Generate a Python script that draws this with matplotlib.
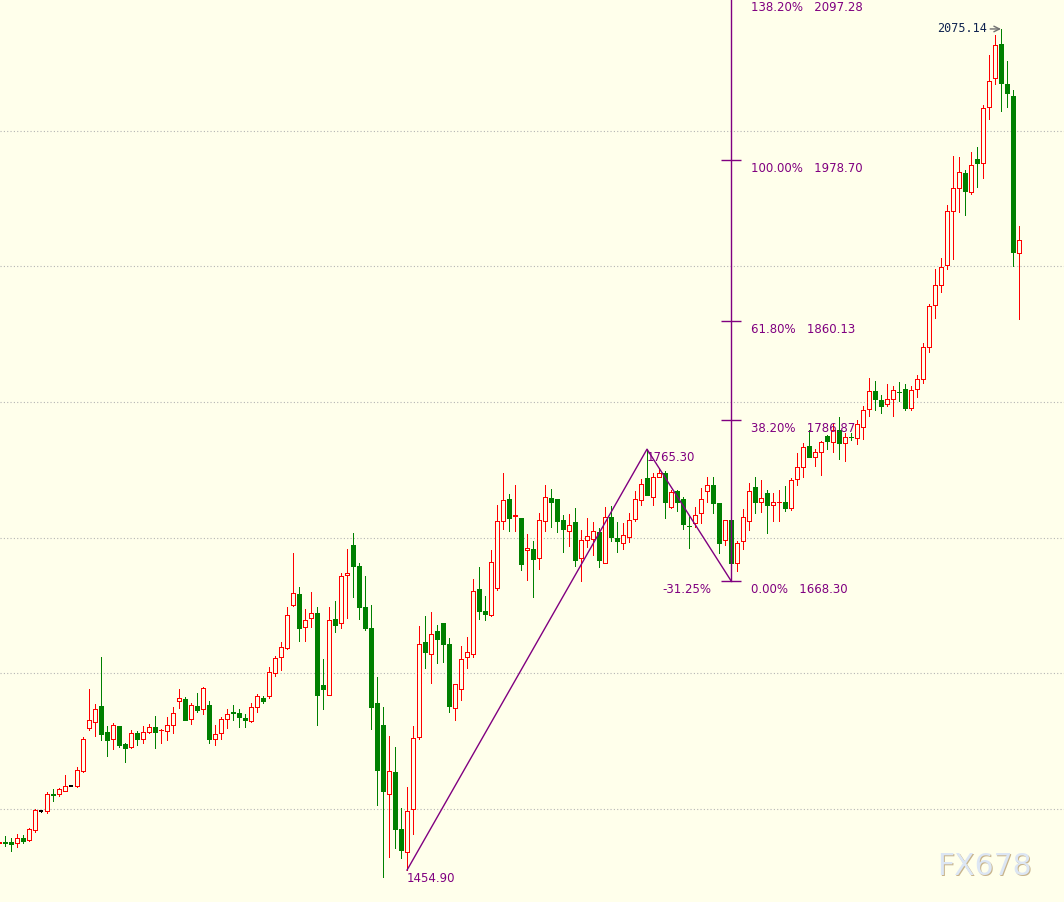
import matplotlib
matplotlib.use("Agg")
import matplotlib.pyplot as plt
from matplotlib.patches import Rectangle

# daily candles (index 0 is the half-cut one at the left edge)
opens = [1474.9, 1475.5, 1475.6, 1474.7, 1478.6, 1477.1, 1484.5, 1498.7, 1498.7, 1511.0,
         1510.8, 1513.6, 1516.6, 1517.2, 1528.2, 1559.9, 1564.4, 1575.9, 1556.8, 1551.8,
         1561.2, 1547.9, 1545.9, 1555.8, 1551.8, 1556.8, 1560.5, 1558.1, 1557.7, 1561.7,
         1579.9, 1580.9, 1566.1, 1575.9, 1573.5, 1576.7, 1551.8, 1555.8, 1566.4, 1571.3,
         1571.1, 1567.1, 1565.1, 1575.0, 1581.6, 1583.6, 1600.5, 1611.9, 1618.9, 1650.6,
         1658.5, 1634.4, 1640.6, 1644.3, 1591.4, 1584.4, 1640.0, 1636.9, 1672.5, 1694.7,
         1679.2, 1648.9, 1633.4, 1578.5, 1561.9, 1510.8, 1527.0, 1485.3, 1468.5, 1499.8,
         1553.3, 1622.8, 1614.0, 1631.2, 1636.8, 1621.6, 1574.1, 1588.3, 1611.7, 1614.0,
         1662.3, 1646.0, 1643.2, 1662.9, 1712.3, 1728.4, 1716.0, 1714.5, 1690.6, 1691.7,
         1685.0, 1712.3, 1729.2, 1728.5, 1713.2, 1705.3, 1711.6, 1685.0, 1698.4, 1699.3,
         1704.2, 1681.3, 1715.3, 1700.0, 1696.0, 1700.2, 1713.6, 1728.0, 1743.7, 1730.4,
         1744.8, 1747.7, 1723.0, 1734.6, 1728.2, 1708.8, 1711.0, 1718.3, 1734.6, 1738.8,
         1725.8, 1698.2, 1713.4, 1681.4, 1697.5, 1712.0, 1737.3, 1726.7, 1733.3, 1724.1,
         1726.1, 1726.3, 1722.1, 1743.3, 1752.0, 1767.6, 1759.8, 1763.0, 1775.0, 1770.8,
         1779.8, 1769.6, 1774.6, 1773.2, 1781.7, 1794.6, 1808.2, 1801.6, 1798.4, 1802.1,
         1807.7, 1809.4, 1795.8, 1809.4, 1816.7, 1840.6, 1871.3, 1886.3, 1901.4, 1940.9,
         1957.6, 1969.3, 1954.6, 1979.2, 1976.0, 2017.7, 2038.8, 2064.2, 2034.7, 2025.6,
         1910.2]
highs = [1475.5, 1480.1, 1478.6, 1481.6, 1480.8, 1486.2, 1500.2, 1498.8, 1512.5, 1515.0,
         1515.7, 1525.1, 1516.6, 1530.6, 1552.9, 1588.5, 1577.4, 1612.1, 1561.2, 1563.2,
         1561.2, 1548.9, 1558.3, 1557.5, 1561.2, 1562.7, 1568.6, 1559.0, 1567.6, 1575.0,
         1588.5, 1582.8, 1577.9, 1585.3, 1590.2, 1579.6, 1561.9, 1567.6, 1573.7, 1576.7,
         1573.7, 1570.0, 1577.9, 1584.8, 1583.5, 1604.8, 1612.8, 1623.1, 1648.7, 1689.0,
         1663.4, 1647.5, 1660.0, 1648.7, 1610.6, 1648.7, 1653.0, 1674.3, 1691.7, 1703.5,
         1681.2, 1671.5, 1650.6, 1597.5, 1575.4, 1553.8, 1545.7, 1501.0, 1516.4, 1561.2,
         1634.9, 1642.2, 1645.4, 1635.7, 1636.8, 1626.3, 1592.2, 1620.2, 1626.5, 1669.3,
         1678.4, 1657.1, 1690.9, 1724.4, 1747.7, 1732.3, 1738.9, 1714.5, 1702.8, 1697.6,
         1718.1, 1738.9, 1735.9, 1728.5, 1716.4, 1717.5, 1721.9, 1705.7, 1714.5, 1711.6,
         1707.1, 1722.7, 1723.4, 1711.6, 1711.1, 1718.1, 1734.5, 1743.5, 1765.3, 1747.7,
         1751.4, 1748.9, 1735.3, 1735.3, 1730.1, 1716.8, 1723.0, 1736.7, 1744.8, 1744.8,
         1725.8, 1713.4, 1713.4, 1697.4, 1721.3, 1740.3, 1744.8, 1742.7, 1735.3, 1733.3,
         1735.3, 1738.2, 1744.3, 1762.7, 1770.0, 1779.4, 1765.1, 1771.4, 1775.7, 1784.2,
         1788.7, 1777.0, 1777.0, 1786.8, 1797.1, 1817.6, 1815.6, 1805.2, 1813.3, 1811.9,
         1814.9, 1813.3, 1811.9, 1820.0, 1843.3, 1872.6, 1897.8, 1906.6, 1945.2, 1981.5,
         1980.4, 1971.1, 1984.1, 1988.2, 2019.1, 2055.7, 2070.7, 2075.14, 2051.2, 2030.1,
         1929.6]
lows = [1474.9, 1472.9, 1469.3, 1472.2, 1474.7, 1476.4, 1483.3, 1497.4, 1496.8, 1506.1,
        1509.8, 1513.6, 1516.6, 1516.0, 1527.0, 1558.3, 1554.0, 1550.9, 1539.1, 1544.2,
        1545.9, 1534.7, 1545.2, 1547.4, 1548.4, 1555.8, 1545.2, 1548.9, 1550.9, 1555.8,
        1574.5, 1565.8, 1562.4, 1571.3, 1569.7, 1548.4, 1546.8, 1551.8, 1559.5, 1565.6,
        1560.6, 1560.6, 1564.4, 1571.6, 1577.9, 1581.5, 1598.2, 1602.5, 1618.0, 1649.8,
        1623.9, 1623.9, 1634.4, 1561.9, 1573.7, 1584.4, 1630.6, 1633.7, 1640.8, 1656.1,
        1640.0, 1632.1, 1558.8, 1503.0, 1450.1, 1464.7, 1471.5, 1463.6, 1454.9, 1481.3,
        1551.6, 1604.1, 1593.0, 1607.9, 1608.5, 1571.6, 1565.6, 1580.7, 1604.3, 1612.3,
        1640.0, 1639.0, 1642.0, 1661.7, 1706.2, 1704.6, 1704.6, 1676.2, 1668.6, 1656.1,
        1677.1, 1704.7, 1707.6, 1704.0, 1689.3, 1694.1, 1678.8, 1667.8, 1693.5, 1687.5,
        1678.1, 1681.3, 1697.7, 1689.7, 1691.5, 1696.5, 1712.3, 1724.3, 1731.4, 1724.3,
        1744.8, 1714.5, 1721.8, 1720.0, 1706.8, 1692.7, 1708.0, 1711.0, 1726.3, 1718.3,
        1688.9, 1694.9, 1668.3, 1675.2, 1691.6, 1705.7, 1718.3, 1719.3, 1703.5, 1712.0,
        1712.0, 1719.6, 1720.3, 1739.0, 1744.5, 1759.2, 1753.0, 1746.6, 1765.1, 1763.3,
        1758.4, 1756.7, 1772.1, 1769.1, 1772.5, 1789.7, 1794.2, 1792.1, 1797.1, 1789.8,
        1800.8, 1794.2, 1794.2, 1804.0, 1814.3, 1837.1, 1862.2, 1881.2, 1898.5, 1905.6,
        1940.4, 1938.0, 1953.4, 1958.7, 1965.3, 2008.4, 2034.2, 2014.6, 2017.7, 1900.6,
        1861.6]
closes = [1475.5, 1475.0, 1474.4, 1478.4, 1476.2, 1485.3, 1499.3, 1498.7, 1510.8, 1510.5,
          1514.7, 1516.6, 1516.6, 1528.5, 1551.4, 1565.4, 1573.5, 1555.5, 1550.9, 1561.9,
          1547.4, 1545.2, 1555.8, 1551.6, 1556.6, 1560.5, 1557.0, 1558.4, 1562.0, 1570.6,
          1581.6, 1565.8, 1576.7, 1573.0, 1589.0, 1551.6, 1555.3, 1566.4, 1570.0, 1571.0,
          1567.6, 1565.4, 1575.0, 1583.3, 1579.9, 1600.8, 1611.3, 1619.2, 1642.8, 1659.0,
          1633.7, 1639.3, 1644.3, 1584.3, 1588.7, 1639.7, 1635.7, 1671.6, 1674.0, 1679.5,
          1649.2, 1633.4, 1575.4, 1529.0, 1513.5, 1527.7, 1485.4, 1469.8, 1498.5, 1552.1,
          1621.4, 1616.0, 1628.7, 1625.6, 1621.8, 1576.1, 1591.8, 1610.4, 1615.4, 1660.5,
          1646.3, 1644.1, 1681.8, 1712.3, 1727.5, 1714.8, 1716.7, 1680.9, 1692.5, 1684.3,
          1713.1, 1730.1, 1726.6, 1712.3, 1706.3, 1709.7, 1683.8, 1698.3, 1701.4, 1704.7,
          1683.8, 1715.3, 1700.2, 1697.4, 1701.7, 1713.1, 1728.4, 1739.8, 1731.4, 1744.7,
          1747.7, 1726.1, 1733.6, 1726.0, 1709.8, 1708.3, 1716.9, 1728.6, 1739.0, 1725.8,
          1696.3, 1713.4, 1681.4, 1696.2, 1715.2, 1734.1, 1726.7, 1729.2, 1724.3, 1726.3,
          1726.5, 1722.1, 1742.5, 1752.2, 1767.1, 1759.8, 1762.9, 1770.6, 1771.5, 1779.4,
          1769.6, 1774.5, 1774.3, 1784.2, 1794.2, 1808.2, 1802.3, 1797.3, 1802.1, 1808.6,
          1807.4, 1795.8, 1808.6, 1816.7, 1840.3, 1871.1, 1886.1, 1899.7, 1941.0, 1958.0,
          1969.8, 1955.8, 1974.8, 1976.0, 2017.2, 2036.8, 2063.6, 2035.2, 2027.8, 1910.9,
          1919.8]

# fibonacci extension drawn on the chart
swing_idx = [68, 108, 122]
swing_prices = [1454.90, 1765.30, 1668.30]
fib_pcts = ["0.00%", "38.20%", "61.80%", "100.00%", "138.20%"]
fib_prices = [1668.30, 1786.87, 1860.13, 1978.70, 2097.28]
retrace_label = "-31.25%"
grid_levels = [1500, 1600, 1700, 1800, 1900, 2000]
peak_idx = 167
peak_label = "2075.14"

BG = "#FFFFEB"
UP = "#FF0000"
DOWN = "#008000"
PURPLE = "#800080"
W = 0.75
LW = 0.72  # ~1 px


def main():
    fig = plt.figure(figsize=(10.64, 9.02), dpi=100)
    fig.patch.set_facecolor(BG)
    ax = fig.add_axes([0, 0, 1, 1])
    ax.set_axis_off()
    ax.set_xlim(1 / 6, 177.5)
    ax.set_ylim(1431.4, 2096.5)

    for lvl in grid_levels:
        ax.axhline(lvl, color="#B4B4B4", lw=0.8, ls=(0, (1, 2)), zorder=0)

    for i, (o, h, l, c) in enumerate(zip(opens, highs, lows, closes)):
        if c > o:
            col, face = UP, BG
        elif c < o:
            col, face = DOWN, DOWN
        else:
            col, face = "black", "black"
        ax.vlines(i, l, h, color=col, lw=LW, zorder=2, antialiased=False)
        if c == o:
            ax.hlines(c, i - W / 2, i + W / 2, color=col, lw=1.2, zorder=3, antialiased=False)
        else:
            ax.add_patch(Rectangle((i - W / 2, min(o, c)), W, abs(c - o), facecolor=face,
                                   edgecolor=col, lw=LW, zorder=3, antialiased=False))

    # zigzag + vertical fib axis
    ax.plot(swing_idx, swing_prices, color=PURPLE, lw=1, zorder=4)
    fx = swing_idx[-1]
    ax.plot([fx, fx], [fib_prices[0], 2120], color=PURPLE, lw=1, zorder=4)
    for pct, p in zip(fib_pcts, fib_prices):
        ax.hlines(p, fx - 1.6, fx + 1.6, color=PURPLE, lw=1, zorder=4)
        ax.annotate(f"{pct}   {p:.2f}", (125.3, p), xytext=(0, -1.5), textcoords="offset points",
                    ha="left", va="top", fontsize=8.5, color=PURPLE, zorder=5,
                    annotation_clip=False)
    ax.annotate(retrace_label, (118.7, fib_prices[0]), xytext=(0, -1.5), textcoords="offset points",
                ha="right", va="top", fontsize=8.5, color=PURPLE)

    ax.annotate(f"{swing_prices[0]:.2f}", (swing_idx[0], swing_prices[0]), xytext=(0, -1),
                textcoords="offset points", ha="left", va="top", fontsize=8.5, color=PURPLE)
    ax.annotate(f"{swing_prices[1]:.2f}", (swing_idx[1], swing_prices[1]), xytext=(0, -1),
                textcoords="offset points", ha="left", va="top", fontsize=8.5, color=PURPLE, zorder=5)

    # high marker
    ax.text(164.7, highs[peak_idx], peak_label, ha="right", va="center",
            family="DejaVu Sans Mono", fontsize=8.5, color="#0F2350")
    ax.annotate("", xy=(peak_idx, highs[peak_idx]), xytext=(165.2, highs[peak_idx]),
                arrowprops=dict(arrowstyle="->", color="#707070", lw=1, shrinkA=0, shrinkB=0))

    # watermark
    fig.text(0.8815, 0.0385, "FX678", fontsize=21.5, color="#C8B48C", ha="left", va="center")
    fig.text(0.8806, 0.0395, "FX678", fontsize=21.5, color="#DCE6F4", ha="left", va="center")

    fig.savefig("out.png", dpi=100, facecolor=BG)


if __name__ == "__main__":
    main()
